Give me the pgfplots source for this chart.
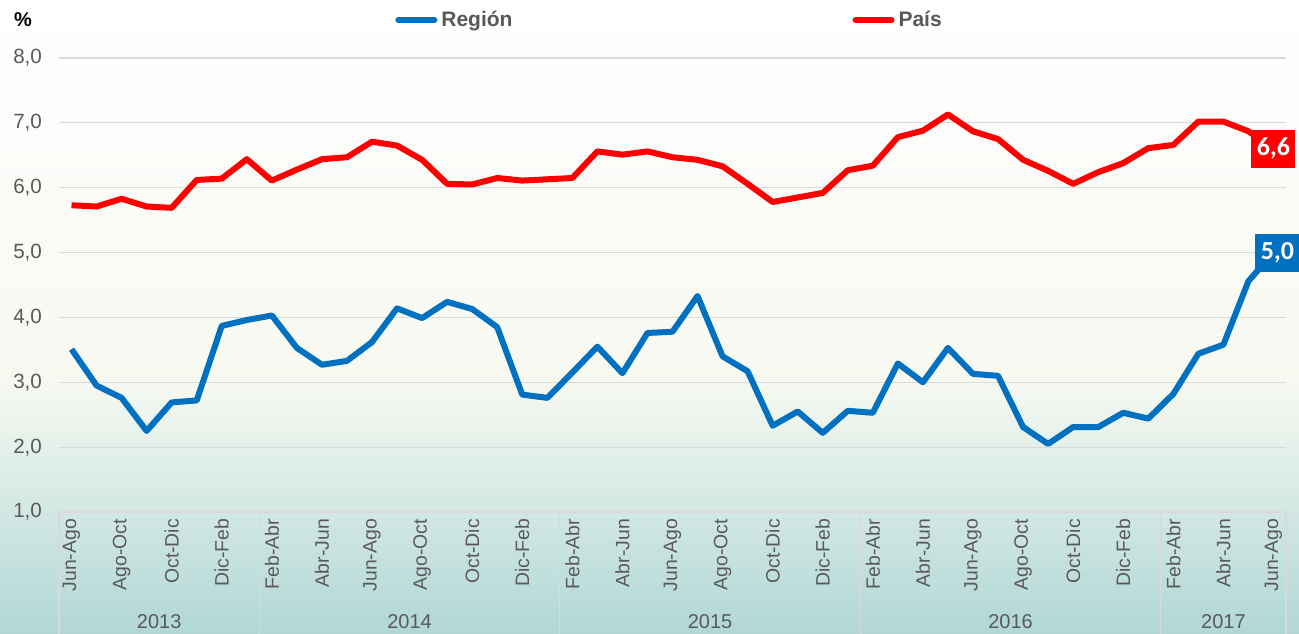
\documentclass[border=0pt]{standalone}
\usepackage{fontspec}
\setmainfont{Liberation Sans}
\newfontfamily\labelfont{Carlito}
\usepackage{pgfplots}
\usepackage{pgfplotstable}
\pgfplotsset{compat=1.18}

\definecolor{region}{HTML}{0070C0}
\definecolor{pais}{HTML}{FF0000}
\definecolor{txtgray}{HTML}{595959}
\definecolor{gridgray}{HTML}{D9D9D9}
\definecolor{bgmid}{HTML}{F7F9F1}
\definecolor{bgbot}{HTML}{B0D7D6}

% tasa trimestral movil (%), Jun-Ago 2013 ... Jun-Ago 2017
\pgfplotstableread{
i  region pais
0  3.51 5.73
1  2.95 5.71
2  2.76 5.83
3  2.25 5.71
4  2.69 5.69
5  2.72 6.12
6  3.87 6.14
7  3.96 6.44
8  4.03 6.11
9  3.53 6.28
10 3.27 6.44
11 3.33 6.47
12 3.62 6.71
13 4.14 6.65
14 3.99 6.43
15 4.24 6.06
16 4.13 6.05
17 3.85 6.15
18 2.81 6.11
19 2.76 6.13
20 3.15 6.15
21 3.55 6.56
22 3.14 6.51
23 3.76 6.56
24 3.78 6.47
25 4.33 6.43
26 3.40 6.33
27 3.17 6.06
28 2.33 5.78
29 2.55 5.85
30 2.22 5.92
31 2.56 6.27
32 2.53 6.34
33 3.29 6.78
34 3.00 6.88
35 3.53 7.13
36 3.13 6.87
37 3.10 6.75
38 2.31 6.43
39 2.05 6.26
40 2.31 6.06
41 2.31 6.24
42 2.53 6.38
43 2.44 6.61
44 2.82 6.66
45 3.44 7.02
46 3.58 7.02
47 4.56 6.87
48 5.00 6.60
}\datatable

\begin{document}
\begin{tikzpicture}
  % fondo
  \shade[top color=white, bottom color=bgmid] (-29.5pt,66pt) rectangle (620pt,256pt);
  \shade[top color=bgmid, bottom color=bgbot] (-29.5pt,-60.5pt) rectangle (620pt,66.2pt);

  \begin{axis}[
      scale only axis,
      width=613.5pt,
      height=227pt,
      at={(0,0)}, anchor=south west,
      xmin=-0.5, xmax=48.5,
      ymin=1, ymax=8,
      ytick={1,...,8},
      xtick={0,2,...,48},
      xticklabels={Jun-Ago,Ago-Oct,Oct-Dic,Dic-Feb,Feb-Abr,Abr-Jun,
                   Jun-Ago,Ago-Oct,Oct-Dic,Dic-Feb,Feb-Abr,Abr-Jun,
                   Jun-Ago,Ago-Oct,Oct-Dic,Dic-Feb,Feb-Abr,Abr-Jun,
                   Jun-Ago,Ago-Oct,Oct-Dic,Dic-Feb,Feb-Abr,Abr-Jun,Jun-Ago},
      ymajorgrids,
      grid style={gridgray, line width=0.6pt},
      axis line style={draw=none},
      major tick length=0pt,
      /pgf/number format/.cd, fixed, fixed zerofill, precision=1, use comma,
      assume math mode=true, /pgfplots/.cd,
      yticklabel style={anchor=east, xshift=-5pt, text=txtgray,
                        font=\fontsize{10.3}{12}\selectfont},
      xticklabel style={rotate=90, anchor=east, text=txtgray,
                        font=\fontsize{9.7}{11}\selectfont},
      clip=false,
      legend columns=2,
      legend style={at={(0.2738,1)}, anchor=west, yshift=19pt,
                    draw=none, fill=none, inner sep=0pt,
                    font=\bfseries\fontsize{10.5}{12}\selectfont, text=txtgray,
                    /tikz/every even column/.append style={column sep=168pt}},
      legend image code/.code={
        \draw[#1, line width=3pt, line cap=round] (0pt,0pt) -- (18pt,0pt);},
    ]
    \addplot[region, line width=3pt, line join=round] table[x=i, y=region] {\datatable};
    \addplot[pais, line width=3pt, line join=round] table[x=i, y=pais] {\datatable};
    \legend{Región, País}

    % etiquetas del ultimo dato
    \addplot[draw=none, forget plot, nodes near coords={\pgfmathprintnumber[fixed,fixed zerofill,precision=1,use comma]{\pgfplotspointmeta}},
      point meta=y,
      every node near coord/.style={anchor=center, fill=pais, text=white, inner sep=1pt,
        minimum width=22pt, minimum height=19pt, font=\labelfont\bfseries\fontsize{13}{15}\selectfont}]
      coordinates {(48,6.6)};
    \addplot[draw=none, forget plot, nodes near coords={\pgfmathprintnumber[fixed,fixed zerofill,precision=1,use comma]{\pgfplotspointmeta}},
      point meta=y,
      every node near coord/.style={anchor=center, xshift=2pt, fill=region, text=white, inner sep=1pt,
        minimum width=22pt, minimum height=19pt, font=\labelfont\bfseries\fontsize{13}{15}\selectfont}]
      coordinates {(48,5.0)};

    % separadores de anios
    \pgfplotsinvokeforeach{-0.5,7.5,19.5,31.5,43.5,48.5}{
      \draw[gridgray, line width=0.6pt] (axis cs:#1,1) -- ++(0pt,-61pt);
    }
    \node[text=txtgray, font=\fontsize{10}{12}\selectfont] at (axis cs:3.5,1) [yshift=-55pt] {2013};
    \node[text=txtgray, font=\fontsize{10}{12}\selectfont] at (axis cs:13.5,1) [yshift=-55pt] {2014};
    \node[text=txtgray, font=\fontsize{10}{12}\selectfont] at (axis cs:25.5,1) [yshift=-55pt] {2015};
    \node[text=txtgray, font=\fontsize{10}{12}\selectfont] at (axis cs:37.5,1) [yshift=-55pt] {2016};
    \node[text=txtgray, font=\fontsize{10}{12}\selectfont] at (axis cs:46,1) [yshift=-55pt] {2017};
  \end{axis}

  \node[font=\bfseries\fontsize{10}{12}\selectfont] at (-18pt,246pt) {\%};

  \pgfresetboundingbox
  \useasboundingbox (-29.5pt,-60.5pt) rectangle (620pt,256pt);
\end{tikzpicture}
\end{document}
